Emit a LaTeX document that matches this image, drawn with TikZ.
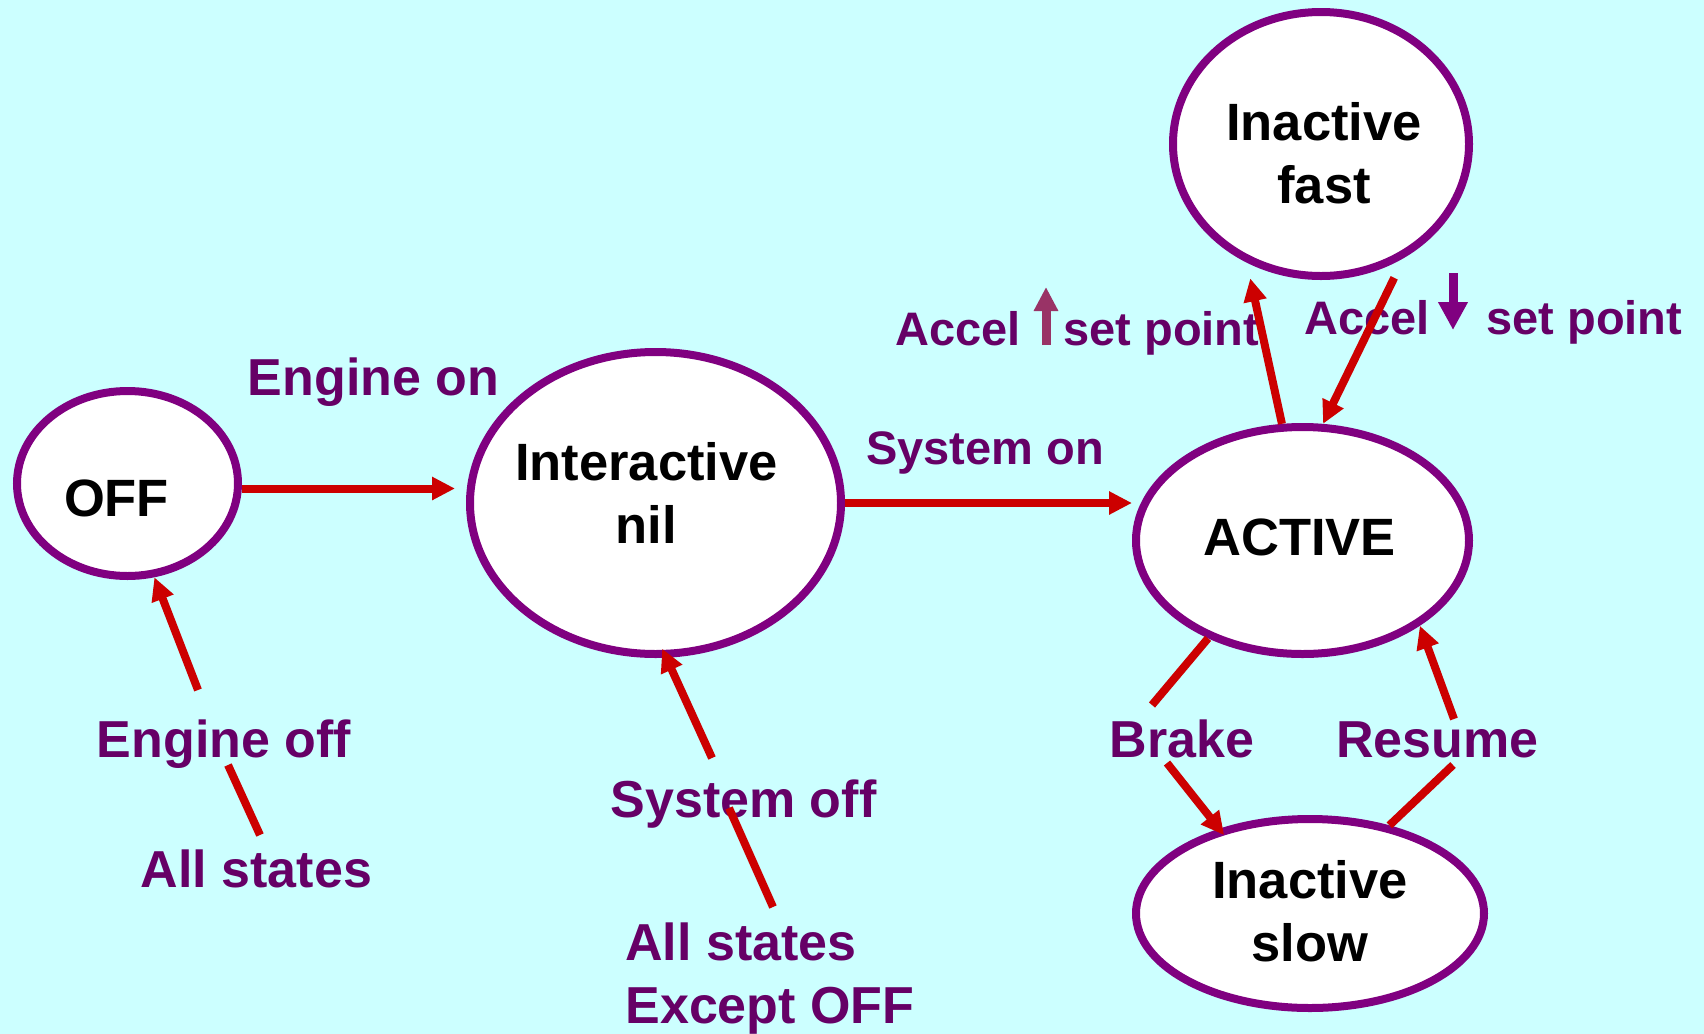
\documentclass[tikz,border=0pt]{standalone}
\usepackage{fontspec}
\setmainfont{Liberation Sans}
\usetikzlibrary{arrows.meta,shapes.geometric}
\definecolor{bgcyan}{HTML}{CCFFFF}
\definecolor{stborder}{HTML}{800080}
\definecolor{lblpurple}{HTML}{660066}
\definecolor{arrred}{HTML}{CC0000}
\definecolor{uppink}{HTML}{993366}

\begin{document}
\begin{tikzpicture}[x=0.5pt,y=-0.5pt,
    st/.style={ellipse,draw=stborder,line width=4pt,fill=white,inner sep=0pt},
    sttext/.style={inner sep=0pt,align=center,font=\fontsize{26.25}{31.5}\selectfont\bfseries},
    lbl/.style={text=lblpurple,inner sep=0pt,anchor=base,font=\fontsize{26}{31.5}\selectfont\bfseries},
    lblsm/.style={lbl,font=\fontsize{23.5}{28}\selectfont\bfseries},
    arr/.style={draw=arrred,line width=4pt,-{Triangle[length=11.5pt,width=11pt]}},
    seg/.style={draw=arrred,line width=4pt}]

    \fill[bgcyan] (0,0) rectangle (1704,1034);
%   \draw[help lines] (0,0) grid[step=100] (1704,1034);

    \node[st,minimum width=110.5pt,minimum height=92.5pt] (off) at (127.5,483.5) {};
    \node[st,minimum width=185.5pt,minimum height=151pt] (inter) at (655.5,503) {};
    \node[st,minimum width=166.5pt,minimum height=113.5pt] (active) at (1302.5,540.5) {};
    \node[st,minimum width=148pt,minimum height=132pt] (fast) at (1321,144) {};
    \node[st,minimum width=174pt,minimum height=94.5pt] (slow) at (1310,913.5) {};

    \node[sttext] (offt) at ([shift={(-11,15)}]off.center) {OFF};
    \node[sttext] (intert) at ([shift={(-9,-10)}]inter.center) {Interactive\\nil};
    \node[sttext] (activet) at ([shift={(-3,-3)}]active.center) {ACTIVE};
    \node[sttext] (fastt) at ([shift={(3,9)}]fast.center) {Inactive\\fast};
    \node[sttext] (slowt) at ([shift={(0,-2)}]slow.center) {Inactive\\slow};

    \node[lbl] (engon) at (373.5,395) {Engine on};
    \node[lbl] (engoff) at (224,757) {Engine off};
    \node[lbl] (alls) at (256.5,887) {All states};
    \node[lbl] (sysoff) at (743.5,817) {System off};
    \node[lbl,align=left,anchor=base west] (allx) at (625,1023) {All states\\Except OFF};
    \node[lblsm] (syson) at (985,464) {System on};
    \node[lblsm,anchor=base west] (accup) at (895,345) {Accel};
    \node[lblsm,anchor=base west] (setup) at (1063,345) {set point};
    \node[lblsm,anchor=base west] (accdn) at (1304,334) {Accel};
    \node[lblsm,anchor=base west] (setdn) at (1486,334) {set point};
    \node[lbl] (brake) at (1182,757) {Brake};
    \node[lbl] (resume) at (1437.5,757) {Resume};

    \coordinate (eoffup) at (198,690);
    \coordinate (allsup) at (260,835);
    \coordinate (eoffdn) at (228,765);
    \coordinate (soffup) at (712,758);
    \coordinate (allxup) at (773,907);
    \coordinate (soffdn) at (729,808);
    \coordinate (brkup) at (1152,705);
    \coordinate (brkdn) at (1167,763);
    \coordinate (resup) at (1454,719);
    \coordinate (resdn) at (1453,765);
    \coordinate (offr) at ([yshift=-2.5pt]off.east);
    \coordinate (upbot) at (1046,345);
    \coordinate (uptop) at (1046,287);
    \coordinate (dntop) at (1453,273);
    \coordinate (dnbot) at (1453,330);

    \draw[arr,shorten >=5.5pt] (offr) -- (offr -| inter.west);
    \draw[arr] (inter.east) -- (inter.east -| active.west);
    \draw[arr] (eoffup) -- (off.-74);
    \draw[seg] (allsup) -- (eoffdn);
    \draw[arr,shorten >=-5pt] (soffup) -- (inter.-86);
    \draw[seg] (allxup) -- (soffdn);
    \draw[arr,shorten >=8pt] (active.100) -- (fast.-122);
    \draw[arr,shorten <=11pt] (fast.-54) -- (active.80);
    \draw[seg] (active.-134) -- (brkup);
    \draw[arr,shorten >=-4pt] (brkdn) -- (slow.137);
    \draw[arr] (resup) -- (active.-36);
    \draw[seg] (slow.48) -- (resdn);
    \draw[line width=4.5pt,uppink,-{Triangle[length=12pt,width=11.5pt]}] (upbot) -- (uptop);
    \draw[line width=4.5pt,stborder,-{Triangle[length=14pt,width=14pt]}] (dntop) -- (dnbot);
\end{tikzpicture}
\end{document}
